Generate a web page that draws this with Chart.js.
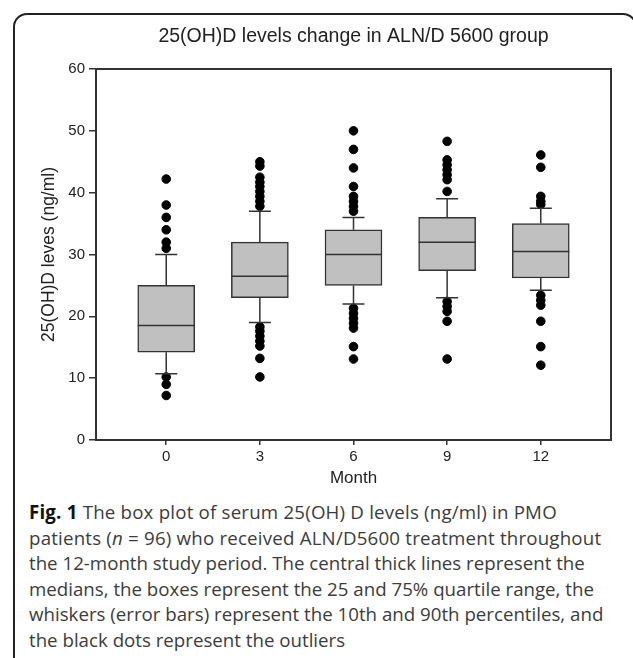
<!DOCTYPE html>
<html>
<head>
<meta charset="utf-8">
<script src="https://cdn.jsdelivr.net/npm/chart.js@4.4.0/dist/chart.umd.min.js"></script>
<style>
    body { margin: 0; background: #fff; width: 633px; height: 658px; overflow: hidden; position: relative; }
    #frame { position: absolute; left: 13px; top: 13px; width: 624px; height: 700px; border: 2px solid #222; border-radius: 14px; box-sizing: border-box; }
    #chartBox { position: absolute; left: 0; top: 0; }
    #caption { position: absolute; left: 29px; top: 499px; font-family: 'Open Sans', sans-serif; font-size: 18.7px; line-height: 25.6px; color: #3c3c3c; white-space: nowrap; }
    #caption b { color: #111; }
    .wide { letter-spacing: 0.2px; }
</style>
</head>
<body>
<div id="frame"></div>
<div id="chartBox"><canvas id="boxChart" width="633" height="495"></canvas></div>
<div id="caption">
    <span class="wide"><b>Fig. 1</b> The box plot of serum 25(OH) D levels (ng/ml) in PMO</span><br>
    <span class="wide">patients (<i>n</i> = 96) who received ALN/D5600 treatment throughout</span><br>
    the 12-month study period. The central thick lines represent the<br>
    medians, the boxes represent the 25 and 75% quartile range, the<br>
    whiskers (error bars) represent the 10th and 90th percentiles, and<br>
    the black dots represent the outliers
</div>
<script>
const months = [0, 3, 6, 9, 12];
const q1 = [14.2, 23, 25, 27.4, 26.2];
const q3 = [25, 32, 34, 36, 35];
const medians = [18.5, 26.5, 30, 32, 30.5];
const p10 = [10.7, 19, 22, 23, 24.2];
const p90 = [30, 37, 36, 39, 37.5];
const outliers0 = [42.2, 38, 36, 34, 32, 31, 10.2, 9, 7.2];
const outliers3 = [45, 44.3, 42.5, 41.7, 41, 40.2, 39.4, 38.6, 37.8, 18.3, 17.6, 16.8, 16, 15.2, 13.2, 10.2];
const outliers6 = [50, 47, 44, 41, 39.4, 38.6, 37.8, 37, 21.3, 20.5, 19.7, 18.9, 18.1, 15.1, 13.1];
const outliers9 = [48.3, 45.3, 44.5, 43.7, 42.9, 42.1, 40.2, 22.4, 21.6, 20.8, 19.2, 13.1];
const outliers12 = [46.1, 44.1, 39.4, 38.6, 38.1, 23.4, 22.6, 21.8, 19.2, 15.1, 12.1];
const yTicks = [0, 10, 20, 30, 40, 50, 60];

const outlierLists = [outliers0, outliers3, outliers6, outliers9, outliers12];
const outlierPoints = [];
outlierLists.forEach((list, i) => {
    list.forEach(v => outlierPoints.push({ x: months[i], y: v }));
});

Chart.defaults.font.family = "'Liberation Sans', Arial, sans-serif";
Chart.defaults.color = '#222';

const lineColor = '#333';

// medians, whiskers and the frame round the plot area
const boxExtras = {
    id: 'boxExtras',
    afterDatasetsDraw(chart) {
        const { ctx, scales: { x, y }, chartArea } = chart;
        const bar = chart.getDatasetMeta(0).data;
        ctx.save();
        ctx.strokeStyle = lineColor;
        ctx.lineWidth = 1.5;
        months.forEach((m, i) => {
            const cx = x.getPixelForValue(m);
            const half = bar[i].width / 2;
            const cap = 11;
            ctx.beginPath();
            ctx.moveTo(cx - half, y.getPixelForValue(medians[i]));
            ctx.lineTo(cx + half, y.getPixelForValue(medians[i]));
            // upper whisker
            ctx.moveTo(cx, y.getPixelForValue(q3[i]));
            ctx.lineTo(cx, y.getPixelForValue(p90[i]));
            ctx.moveTo(cx - cap, y.getPixelForValue(p90[i]));
            ctx.lineTo(cx + cap, y.getPixelForValue(p90[i]));
            // lower whisker
            ctx.moveTo(cx, y.getPixelForValue(q1[i]));
            ctx.lineTo(cx, y.getPixelForValue(p10[i]));
            ctx.moveTo(cx - cap, y.getPixelForValue(p10[i]));
            ctx.lineTo(cx + cap, y.getPixelForValue(p10[i]));
            ctx.stroke();
        });
        ctx.lineWidth = 2;
        ctx.strokeRect(chartArea.left, chartArea.top, chartArea.right - chartArea.left, chartArea.bottom - chartArea.top);
        ctx.restore();
    }
};

new Chart(document.getElementById('boxChart'), {
    type: 'bar',
    data: {
        datasets: [
            {
                label: 'IQR',
                data: months.map((m, i) => ({ x: m, y: [q1[i], q3[i]] })),
                backgroundColor: '#c0c0c0',
                borderColor: lineColor,
                borderWidth: 1.5,
                borderSkipped: false,
                barThickness: 57,
                order: 2
            },
            {
                type: 'scatter',
                label: 'Outliers',
                data: outlierPoints,
                backgroundColor: '#000',
                borderColor: '#000',
                pointRadius: 4.3,
                pointHoverRadius: 4.3,
                order: 1
            }
        ]
    },
    options: {
        responsive: false,
        animation: false,
        layout: { padding: { top: 0, left: 0, right: 22, bottom: 0 } },
        plugins: {
            legend: { display: false },
            tooltip: { enabled: false },
            title: {
                display: true,
                fullSize: false,
                text: '25(OH)D levels change in ALN/D 5600 group',
                font: { size: 19.5, weight: 'normal' },
                color: '#222',
                padding: { top: 25, bottom: 20.6 }
            }
        },
        scales: {
            x: {
                type: 'linear',
                offset: false,
                min: -2.25,
                max: 14.25,
                afterBuildTicks: s => { s.ticks = months.map(v => ({ value: v })); },
                afterFit: s => { s.height = 55; },
                grid: { offset: false, drawOnChartArea: false, drawTicks: true, tickLength: 5, color: lineColor, lineWidth: 1.5 },
                border: { color: lineColor, width: 2 },
                ticks: { font: { size: 15 }, padding: 3, color: '#222' },
                title: { display: true, text: 'Month', font: { size: 17 }, color: '#222', padding: { top: 0, bottom: 6 } }
            },
            y: {
                min: 0,
                max: 60,
                afterBuildTicks: s => { s.ticks = yTicks.map(v => ({ value: v })); },
                afterFit: s => { s.width = 96; },
                grid: { drawOnChartArea: false, drawTicks: true, tickLength: 7, color: lineColor, lineWidth: 1.5 },
                border: { color: lineColor, width: 2 },
                ticks: { font: { size: 15 }, padding: 4, color: '#222' },
                title: { display: true, text: '25(OH)D leves (ng/ml)', font: { size: 17.5 }, color: '#222', padding: { top: 39, bottom: 0 } }
            }
        }
    },
    plugins: [boxExtras]
});
</script>
</body>
</html>
